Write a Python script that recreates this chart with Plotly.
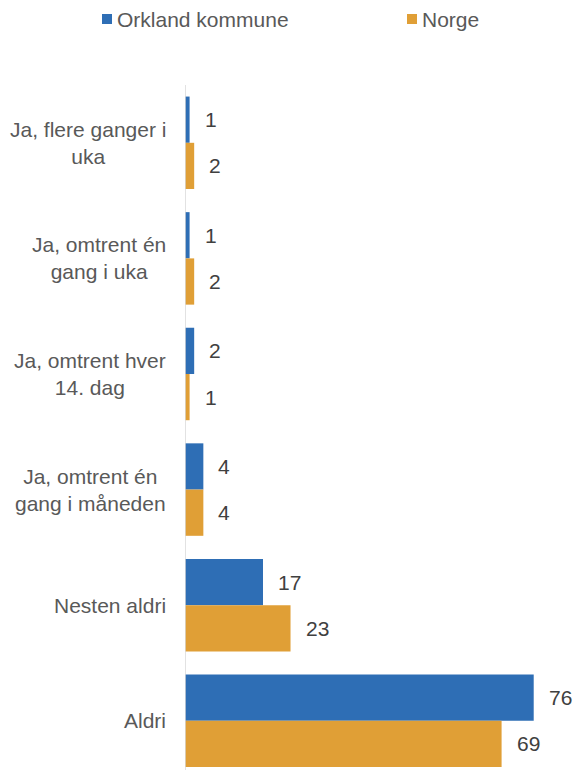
import plotly.graph_objects as go

categories = [
    "Ja, flere ganger i<br>uka",
    "Ja, omtrent én<br>gang i uka",
    "Ja, omtrent hver<br>14. dag",
    "Ja, omtrent én<br>gang i måneden",
    "Nesten aldri",
    "Aldri",
]
orkland = [1, 1, 2, 4, 17, 76]
norge = [2, 2, 1, 4, 23, 69]

series = [
    ("Orkland kommune", orkland, "#2E6EB5", -0.2),
    ("Norge", norge, "#E09F36", 0.2),
]

W, H = 575, 770
ML, MT = 185, 85
FONT = "Liberation Sans, Arial, sans-serif"
FS = 21
LABEL_GREY = "#595959"
VALUE_GREY = "#404040"


def px_to_paper_x(p):
    return (p - ML) / (W - ML)


def px_to_paper_y(p):
    return 1 - (p - MT) / (H - MT)


fig = go.Figure()
idx = list(range(len(categories)))
for name, vals, color, _ in series:
    fig.add_trace(go.Bar(
        name=name, y=idx, x=vals, orientation="h",
        marker=dict(color=color, line=dict(width=0)),
        hoverinfo="x+name", showlegend=False,
    ))

annotations = []
shapes = []
# value labels to the right of each bar
for name, vals, color, off in series:
    for i, v in enumerate(vals):
        annotations.append(dict(
            x=v, y=i + off, xref="x", yref="y", text=str(v),
            showarrow=False, xanchor="left", yanchor="middle", xshift=13,
            font=dict(family=FONT, size=FS, color=VALUE_GREY),
        ))
# category labels, centre-aligned block to the left of the axis
for i, c in enumerate(categories):
    annotations.append(dict(
        x=0, y=i, xref="paper", yref="y", text=c, showarrow=False,
        xanchor="right", yanchor="middle", align="center", xshift=-17,
        font=dict(family=FONT, size=FS, color=LABEL_GREY),
    ))

# legend row across the top: square swatch followed by the series name
legend_pos = [102, 407]
for (name, vals, color, _), x0 in zip(series, legend_pos):
    shapes.append(dict(
        type="rect", xref="paper", yref="paper",
        x0=px_to_paper_x(x0), x1=px_to_paper_x(x0 + 10),
        y0=px_to_paper_y(24), y1=px_to_paper_y(14),
        fillcolor=color, line=dict(width=0),
    ))
    annotations.append(dict(
        x=px_to_paper_x(x0 + 13), y=px_to_paper_y(19), xref="paper", yref="paper",
        text=name, showarrow=False, xanchor="left", yanchor="middle",
        font=dict(family=FONT, size=FS, color=LABEL_GREY),
    ))

# value axis line at zero
shapes.append(dict(type="line", xref="x", yref="paper", x0=0, x1=0, y0=0, y1=1,
                   line=dict(color="#D9D9D9", width=1.5), layer="above"))

fig.update_layout(
    width=W, height=H,
    margin=dict(l=ML, r=0, t=MT, b=0),
    paper_bgcolor="white", plot_bgcolor="white",
    barmode="group", bargap=0.2, bargroupgap=0,
    font=dict(family=FONT, size=FS, color=LABEL_GREY),
    showlegend=False,
    xaxis=dict(range=[0, 85], showgrid=False, zeroline=False,
               showticklabels=False, ticks="", showline=False),
    yaxis=dict(range=[5.426, -0.5], showgrid=False, zeroline=False,
               showticklabels=False, ticks="", showline=False),
    annotations=annotations,
    shapes=shapes,
)

fig.write_html("out.html")
